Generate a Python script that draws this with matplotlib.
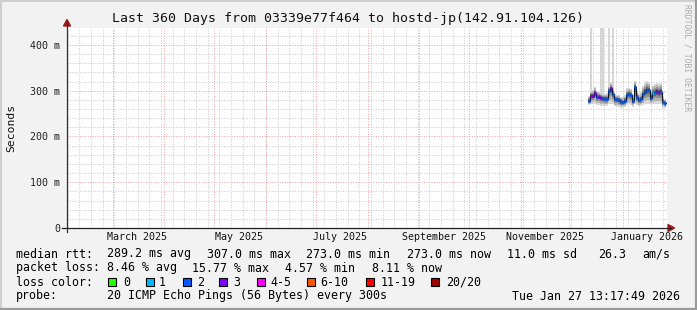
import datetime as dt
import numpy as np
import matplotlib
matplotlib.use("Agg")
import matplotlib.pyplot as plt
import matplotlib.dates as mdates
from matplotlib.lines import Line2D
from matplotlib.patches import Rectangle, Polygon

# ---------------- data ----------------
title = "Last 360 Days from 03339e77f464 to hostd-jp(142.91.104.126)"
end_time = dt.datetime(2026, 1, 27, 13, 17, 49)
span_days = 360
data_start = dt.datetime(2025, 12, 11, 22, 0)
step_hours = 28.8

median_ms = [278, 289, 289, 296, 287, 287, 285, 283, 282, 282,
             300, 305, 293, 281, 281, 280, 276, 275, 277, 290,
             293, 291, 278, 307, 286, 280, 282, 292, 298, 302,
             301, 285, 295, 297, 298, 297, 298, 276, 273]
ping_min_ms = [268, 270, 270, 270, 268, 268, 267, 267, 266, 266,
               270, 272, 270, 266, 265, 264, 263, 263, 264, 268,
               270, 268, 265, 272, 268, 266, 266, 268, 270, 272,
               272, 268, 270, 270, 270, 270, 270, 263, 262]
ping_max_ms = [288, 300, 302, 308, 300, 298, 296, 294, 293, 294,
               312, 318, 306, 292, 291, 290, 287, 286, 290, 305,
               306, 304, 292, 322, 300, 294, 297, 310, 318, 322,
               320, 302, 313, 315, 316, 314, 316, 288, 282]
ping_top_ms = [288, 520, 302, 308, 300, 298, 520, 520, 293, 294,
               520, 318, 520, 292, 291, 290, 287, 286, 290, 305,
               306, 304, 292, 322, 300, 294, 297, 310, 318, 322,
               320, 302, 313, 315, 316, 314, 316, 288, 282]
loss_count = [2, 3, 3, 3, 2, 3, 3, 2, 2, 2,
              2, 3, 2, 2, 2, 2, 2, 2, 2, 2,
              2, 2, 2, 2, 2, 2, 2, 2, 2, 2,
              2, 2, 1, 2, 3, 3, 2, 2, 2]

y_max = 437
y_ticks = [0, 100, 200, 300, 400]
y_tick_labels = ["0", "100 m", "200 m", "300 m", "400 m"]
month_labels = ["March 2025", "May 2025", "July 2025",
                "September 2025", "November 2025", "January 2026"]
label_months = [(2025, 3), (2025, 5), (2025, 7), (2025, 9), (2025, 11), (2026, 1)]

loss_legend = ["0", "1", "2", "3", "4-5", "6-10", "11-19", "20/20"]
loss_colors = ["#26ff00", "#00b8ff", "#0059ff", "#7e00ff",
               "#ff00ff", "#ff5500", "#ff0000", "#a10000"]
loss_upper = [0, 1, 2, 3, 5, 10, 19, 20]

median_stats = ["289.2 ms avg", "307.0 ms max", "273.0 ms min",
                "273.0 ms now", "11.0 ms sd", "26.3", "am/s"]
loss_stats = ["8.46 % avg", "15.77 % max", "4.57 % min", "8.11 % now"]
probe_text = "20 ICMP Echo Pings (56 Bytes) every 300s"
stamp_text = "Tue Jan 27 13:17:49 2026"
watermark = "RRDTOOL / TOBI OETIKER"

# ---------------- layout ----------------
W, H = 697, 310
BG = "#f2f2f2"
MONO = "DejaVu Sans Mono"
fig = plt.figure(figsize=(W / 100, H / 100), dpi=100, facecolor=BG)


def fx(px):
    return px / W


def fy(py):
    return 1 - py / H


PL, PR, PT, PB = 67, 667, 28, 228
ax = fig.add_axes([fx(PL), fy(PB), fx(PR - PL), (PB - PT) / H])
ax.set_facecolor("white")
for s in ax.spines.values():
    s.set_visible(False)

t_end = mdates.date2num(end_time)
t_start = t_end - span_days
ax.set_xlim(t_start, t_end)
ax.set_ylim(0, y_max)

# grid
minor_col = "#c8c8c8"
major_col = "#eda0a0"
dots = (0, (1, 1.6))
for v in range(0, y_max + 1, 20):
    if v % 100 == 0:
        continue
    ax.axhline(v, color=minor_col, lw=0.7, ls=dots, zorder=0)
for v in y_ticks[1:]:
    ax.axhline(v, color=major_col, lw=0.7, ls=dots, zorder=0.5)

# weekly minor grid (Sundays)
d = dt.datetime(2025, 1, 26)
while mdates.date2num(d) < t_end:
    tn = mdates.date2num(d)
    if tn > t_start:
        ax.axvline(tn, color=minor_col, lw=0.7, ls=dots, zorder=0)
    d += dt.timedelta(days=7)

# monthly major grid
month_starts = []
y_, m_ = 2025, 2
while True:
    tn = mdates.date2num(dt.datetime(y_, m_, 1))
    if tn > t_end:
        break
    if tn > t_start:
        month_starts.append(tn)
    m_ += 1
    if m_ > 12:
        m_, y_ = 1, y_ + 1
for tn in month_starts:
    ax.axvline(tn, color=major_col, lw=0.7, ls=dots, zorder=0.5)

# ---------------- data drawing ----------------
n = len(median_ms)
t = mdates.date2num(data_start) + np.arange(n) * step_hours / 24.0
half = step_hours / 48.0
xs = np.concatenate([t - half, [t[-1] + half]])


def ext(vals):
    v = np.asarray(vals, dtype=float)
    return np.concatenate([v, [v[-1]]])


med = np.asarray(median_ms, float)
lo = np.asarray(ping_min_ms, float)
hi = np.asarray(ping_max_ms, float)
top = np.asarray(ping_top_ms, float)

# outlier pings (lightest smoke)
ax.fill_between(xs, ext(hi), ext(top), step="post", color="#d6d6d6", lw=0, zorder=2)

fracs = [1.0, 0.75, 0.5, 0.3, 0.14]
shades = ["#d8d8d8", "#b6b6b6", "#919191", "#686868", "#383838"]
for f, c in zip(fracs, shades):
    ax.fill_between(xs, ext(med - f * (med - lo)), ext(med + f * (hi - med)),
                    step="post", color=c, lw=0, zorder=3)

ax.plot(xs, ext(med), drawstyle="steps-post", color="#151515", lw=0.8, zorder=4)


def loss_color(k):
    for up, c in zip(loss_upper, loss_colors):
        if k <= up:
            return c
    return loss_colors[-1]


ax.hlines(med, t - half, t + half, colors=[loss_color(k) for k in loss_count],
          lw=2.4, zorder=5)

# ---------------- axes text ----------------
ax.set_xticks([])
ax.set_yticks(y_ticks)
ax.set_yticklabels(y_tick_labels, fontfamily=MONO, fontsize=7.2, color="#222222")
ax.tick_params(axis="y", length=0, pad=5)

for (yy, mm), lab in zip(label_months, month_labels):
    tn = mdates.date2num(dt.datetime(yy, mm, 1)) + 14.5
    fig.text(fx(PL + (tn - t_start) / span_days * (PR - PL)), fy(237.5), lab,
             fontfamily=MONO, fontsize=7.2, ha="center", va="center", color="#111111")

# axis lines with arrows
arrow_col = "#a01818"
fig.add_artist(Line2D([fx(PL), fx(PL)], [fy(PB + 4), fy(22)], color="#303030", lw=0.9))
fig.add_artist(Line2D([fx(PL - 5), fx(PR + 4)], [fy(PB), fy(PB)], color="#202020", lw=0.9))
fig.add_artist(Polygon([[fx(PL - 3.5), fy(26)], [fx(PL + 3.5), fy(26)], [fx(PL), fy(19.5)]],
                       closed=True, color=arrow_col, transform=fig.transFigure))
fig.add_artist(Polygon([[fx(PR + 1), fy(PB - 3.5)], [fx(PR + 1), fy(PB + 3.5)], [fx(PR + 7.5), fy(PB)]],
                       closed=True, color=arrow_col, transform=fig.transFigure))

fig.text(0.5, fy(18.5), title, fontfamily=MONO, fontsize=9.5, ha="center", va="center",
         color="#111111")
fig.text(fx(11), fy(128), "Seconds", fontfamily=MONO, fontsize=8.2, rotation=90,
         ha="center", va="center", color="#111111")
fig.text(fx(687), fy(4), watermark, fontfamily=MONO, fontsize=5.8, rotation=-90,
         ha="center", va="top", color="#aaaaaa")

# ---------------- legend ----------------
LF = 8.4
row_y = [254, 268, 282, 296]
fig.text(fx(16), fy(row_y[0]), "median rtt:", fontfamily=MONO, fontsize=LF, va="center")
for txt, px in zip(median_stats, [107, 207, 306, 407, 507, 598, 642]):
    fig.text(fx(px), fy(row_y[0]), txt, fontfamily=MONO, fontsize=LF, va="center")

fig.text(fx(16), fy(row_y[1]), "packet loss:", fontfamily=MONO, fontsize=LF, va="center")
for txt, px in zip(loss_stats, [107, 192, 285, 372]):
    fig.text(fx(px), fy(row_y[1]), txt, fontfamily=MONO, fontsize=LF, va="center")

fig.text(fx(16), fy(row_y[2]), "loss color:", fontfamily=MONO, fontsize=LF, va="center")
box_x = [108, 146, 183, 219, 257, 307, 366, 431]
text_x = [123, 159, 197, 233, 270, 320, 381, 446]
for lab, c, bx, tx in zip(loss_legend, loss_colors, box_x, text_x):
    fig.add_artist(Rectangle((fx(bx), fy(row_y[2] + 4)), 8 / W, 8 / H, facecolor=c,
                             edgecolor="black", lw=0.8, transform=fig.transFigure))
    fig.text(fx(tx), fy(row_y[2]), lab, fontfamily=MONO, fontsize=LF, va="center")

fig.text(fx(16), fy(row_y[3]), "probe:", fontfamily=MONO, fontsize=LF, va="center")
fig.text(fx(107), fy(row_y[3]), probe_text, fontfamily=MONO, fontsize=LF, va="center")
fig.text(fx(680), fy(row_y[3]), stamp_text, fontfamily=MONO, fontsize=LF, va="center", ha="right")

# frame (3D border)
fig.add_artist(Line2D([0, 1], [fy(0.7), fy(0.7)], color="#cfcfcf", lw=1.4))
fig.add_artist(Line2D([fx(0.7), fx(0.7)], [0, 1], color="#cfcfcf", lw=1.4))
fig.add_artist(Line2D([0, 1], [fy(H - 1), fy(H - 1)], color="#9a9a9a", lw=1.6))
fig.add_artist(Line2D([fx(W - 1), fx(W - 1)], [0, 1], color="#9a9a9a", lw=1.6))

fig.savefig("out.png", dpi=100, facecolor=BG)
